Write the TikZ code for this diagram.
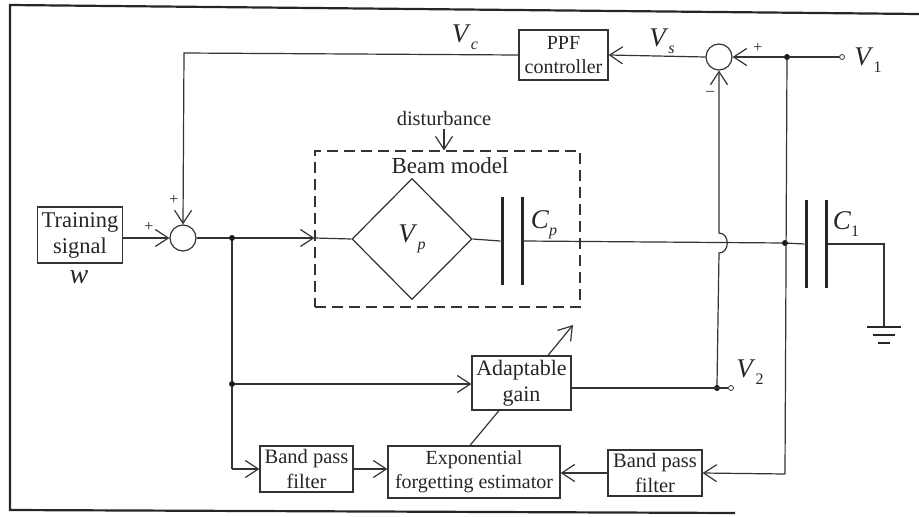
\documentclass[tikz,border=0pt]{standalone}
\usepackage{fontspec}
\setmainfont{Liberation Serif}
\usetikzlibrary{arrows.meta, positioning, shapes.geometric}
\newcommand{\symb}[2]{{\fontsize{27}{27}\selectfont\textit{#1}}\raisebox{-7pt}{\fontsize{16}{16}\selectfont #2}}

\begin{document}
\begin{tikzpicture}[
    x=1pt, y=-1pt,
    every node/.style={font=\fontsize{20.5}{25}\selectfont, text=black!85},
    block/.style={draw=black!80, line width=1.2pt, align=center, inner sep=0pt},
    sumnode/.style={draw=black!80, circle, line width=1.2pt, minimum size=26pt, inner sep=0pt},
    plate/.style={fill=black!85, minimum width=3pt, minimum height=88pt, inner sep=0pt},
    gnd/.style={fill=black!85, minimum height=2.5pt, inner sep=0pt},
    dot/.style={fill=black!90, circle, minimum size=6pt, inner sep=0pt},
    term/.style={draw=black!80, fill=white, circle, line width=0.8pt, minimum size=5pt, inner sep=0pt},
    sign/.style={font=\fontsize{16}{16}\selectfont, inner sep=0pt},
    wire/.style={draw=black!80, line width=1.2pt},
    conn/.style={wire, -{Straight Barb[length=13pt,width=17pt]}}
]
\useasboundingbox (0,0) rectangle (919,517);

% Outer frame
\coordinate (frameTR) at (919,14);
\coordinate (frameTL) at (10,5);
\coordinate (frameBL) at (10,510);
\coordinate (frameBR) at (735,513);
\draw[line width=2.2pt, black!85] (frameTR) -- (frameTL) -- (frameBL) -- (frameBR);

% Blocks
\node[block, minimum width=85pt, minimum height=56pt, font=\fontsize{22.5}{26}\selectfont] (train) at (80,235) {Training\\signal};
\node[block, minimum width=89pt, minimum height=50pt, font=\fontsize{20}{24}\selectfont] (ppf) at (563.5,55) {PPF\\controller};
\node[block, minimum width=99pt, minimum height=54pt, font=\fontsize{22}{26}\selectfont] (gain) at (521.5,383) {Adaptable\\gain};
\node[block, minimum width=93pt, minimum height=46pt] (bpfL) at (306.5,469) {Band pass\\filter};
\node[block, minimum width=172pt, minimum height=52pt, font=\fontsize{20}{24}\selectfont] (est) at (474,472) {Exponential\\forgetting estimator};
\node[block, minimum width=94pt, minimum height=46pt] (bpfR) at (655,473) {Band pass\\filter};
\node[sumnode] (sumL) at (183,238) {};
\node[sumnode] (sumR) at (719,57) {};

% Beam model
\node[draw=black!80, line width=1.1pt, dash pattern=on 11pt off 6pt, minimum width=265pt, minimum height=156pt, inner sep=0pt] (beam) at (447.5,229) {};
\node[font=\fontsize{23}{26}\selectfont] (beamlbl) at (450,166) {Beam model};
\node (dist) at (444,118) {disturbance};
\node[draw=black!80, diamond, line width=1.2pt, minimum width=120pt, minimum height=121pt, inner sep=0pt] (vp) at (412,239) {\symb{V}{\textit{p}}};
\node[plate] (cpA) at (502,241) {};
\node[plate] (cpB) at (522,241) {};
\node[plate] (cA) at (806,244) {};
\node[plate] (cB) at (826,244) {};

% Ground
\node[gnd, minimum width=34pt] (gndA) at (884,327) {};
\node[gnd, minimum width=22pt] (gndB) at (884,335) {};
\node[gnd, minimum width=12pt] (gndC) at (884,343) {};

% Junctions and terminals
\node[dot] (jA) at (232,238) {};
\node[dot] (jB) at (232,384) {};
\node[dot] (jC) at (787,57) {};
\node[dot] (jD) at (785,243) {};
\node[dot] (jE) at (717,388) {};
\node[term] (v1) at (842,57) {};
\node[term] (v2) at (731,388) {};
\coordinate (jumpA) at (719,233);
\coordinate (jumpB) at (719,253);
\coordinate (cornerFb) at (184,53);
\coordinate (cornerBp) at (232,469);
\coordinate (cornerR) at (785,474);
\coordinate (entry) at (jA -| beam.west);

% Labels
\node (wlbl) at (79,277) {\fontsize{28}{28}\selectfont\textit{w}};
\node (vclbl) at (465,37) {\symb{V}{\textit{c}}};
\node (vslbl) at (662,41) {\symb{V}{\textit{s}}};
\node (v1lbl) at (868,60) {\symb{V}{1}};
\node (v2lbl) at (750,372) {\symb{V}{2}};
\node (cplbl) at (544,225) {\symb{C}{\textit{p}}};
\node (c1lbl) at (846,224) {\symb{C}{1}};
\node[sign] (plusA) at (174,200) {+};
\node[sign] (plusB) at (149,227) {+};
\node[sign] (plusC) at (758,48) {+};
\node[sign] (minusA) at (710,93) {--};

% Forward path
\draw[conn] (train.east |- sumL.west) -- (sumL.west);
\draw[wire] (sumL.east) -- (jA);
\draw[conn] (jA) -- (entry);
\draw[wire] (entry) -- (vp.west);
\draw[wire] (vp.east) -- (cpA.west);
\draw[wire] (cpB.east) -- (jD) -- (cA.west);
\draw[wire] (cB.east) -| (gndA.north);
\draw[conn] (dist.south) -- (dist.south |- beam.north);

% Feedback through the controller
\draw[wire] (v1) -- (jC);
\draw[conn] (jC) -- (sumR.east);
\draw[conn] (sumR.west) -- (ppf.east);
\draw[conn] (ppf.west) -- (cornerFb) -- (sumL.north);
\draw[conn] (jE.north) -- (jumpB) .. controls (730,253) and (730,233) .. (jumpA) -- (sumR.south);

% Adaptation path
\draw[wire] (jA) -- (jB) -- (cornerBp);
\draw[conn] (cornerBp) -- (bpfL.west);
\draw[conn] (jB) -- (jB -| gain.west);
\draw[wire] (v2 -| gain.east) -- (v2);
\draw[conn] (bpfL.east) -- (bpfL.east -| est.west);
\draw[conn] (bpfR.west) -- (est.east |- bpfR.west);
\draw[wire] (jC) -- (cornerR);
\draw[conn] (cornerR) -- (bpfR.east);
\draw[wire] (est.north -| 470,0) -- (gain.south -| 499,0);
\coordinate (gainOut) at (573,325);
\draw[conn] (gain.north -| 548,0) -- (gainOut);
\end{tikzpicture}
\end{document}
